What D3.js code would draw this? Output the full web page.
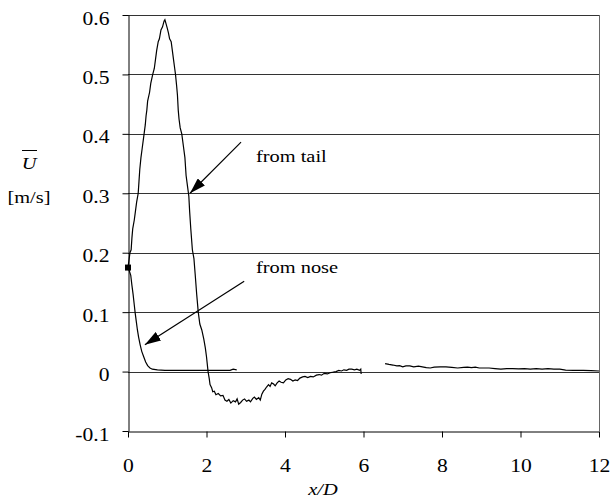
<!DOCTYPE html>
<html>
<head>
<meta charset="utf-8">
<script src="https://cdn.jsdelivr.net/npm/d3@7"></script>
<style>
  body { margin: 0; background: #fff; }
  .chart { width: 611px; height: 501px; }
</style>
</head>
<body>
<div class="chart"></div>
<script>
// values, [x/D, U]
var tailCurve = [[0.00,0.175],[0.03,0.19],[0.05,0.2],[0.08,0.205],[0.10,0.225],[0.12,0.24],[0.16,0.255],[0.19,0.27],[0.22,0.285],[0.26,0.30],[0.28,0.32],[0.30,0.34],[0.33,0.36],[0.36,0.375],[0.41,0.40],[0.44,0.415],[0.46,0.43],[0.48,0.44],[0.50,0.455],[0.55,0.47],[0.58,0.485],[0.63,0.50],[0.67,0.51],[0.70,0.525],[0.73,0.54],[0.77,0.555],[0.80,0.56],[0.84,0.575],[0.88,0.58],[0.92,0.59],[0.94,0.592],[0.97,0.585],[1.00,0.578],[1.03,0.57],[1.06,0.56],[1.10,0.555],[1.13,0.54],[1.16,0.525],[1.19,0.51],[1.21,0.50],[1.24,0.48],[1.26,0.465],[1.28,0.44],[1.30,0.425],[1.33,0.41],[1.37,0.40],[1.41,0.38],[1.45,0.36],[1.48,0.33],[1.52,0.31],[1.55,0.295],[1.57,0.27],[1.60,0.24],[1.64,0.205],[1.68,0.19],[1.71,0.165],[1.75,0.13],[1.79,0.10],[1.83,0.08],[1.88,0.07],[1.93,0.055],[1.97,0.04],[2.00,0.025],[2.04,0.0],[2.07,-0.012],[2.09,-0.022],[2.13,-0.027],[2.16,-0.034],[2.20,-0.033],[2.24,-0.039],[2.30,-0.037],[2.36,-0.041],[2.42,-0.040],[2.47,-0.048],[2.52,-0.050],[2.57,-0.047],[2.62,-0.053],[2.68,-0.049],[2.74,-0.051],[2.78,-0.046],[2.82,-0.055],[2.87,-0.052],[2.92,-0.048],[2.97,-0.046],[3.02,-0.050],[3.08,-0.048],[3.12,-0.051],[3.18,-0.045],[3.22,-0.043],[3.27,-0.047],[3.33,-0.044],[3.37,-0.048],[3.41,-0.038],[3.45,-0.033],[3.49,-0.030],[3.53,-0.026],[3.58,-0.022],[3.62,-0.025],[3.66,-0.019],[3.71,-0.021],[3.75,-0.024],[3.80,-0.019],[3.85,-0.016],[3.90,-0.018],[3.96,-0.019],[4.02,-0.014],[4.08,-0.012],[4.14,-0.013],[4.20,-0.016],[4.26,-0.014],[4.32,-0.015],[4.38,-0.011],[4.45,-0.009],[4.51,-0.008],[4.58,-0.010],[4.65,-0.008],[4.72,-0.009],[4.80,-0.006],[4.87,-0.005],[4.93,-0.006],[5.00,-0.003],[5.08,-0.004],[5.15,-0.002],[5.23,-0.001],[5.30,0.000],[5.37,0.002],[5.44,0.001],[5.50,0.003],[5.57,0.002],[5.63,0.004],[5.70,0.004],[5.77,0.003],[5.83,0.004],[5.90,0.002],[5.93,0.004],[5.94,-0.004]];

var noseCurve = [[0.00,0.175],[0.03,0.17],[0.07,0.162],[0.10,0.145],[0.13,0.13],[0.16,0.112],[0.18,0.10],[0.21,0.085],[0.24,0.07],[0.27,0.058],[0.31,0.045],[0.35,0.034],[0.40,0.025],[0.45,0.016],[0.50,0.010],[0.56,0.006],[0.62,0.004],[0.75,0.003],[0.94,0.002],[1.2,0.002],[1.6,0.002],[2.0,0.002],[2.3,0.002],[2.6,0.002],[2.68,0.004],[2.77,0.003]];

var farCurve = [[6.55,0.0135],[6.65,0.012],[6.75,0.011],[6.85,0.0095],[6.92,0.010],[7.00,0.008],[7.08,0.0095],[7.18,0.0095],[7.28,0.008],[7.40,0.009],[7.50,0.008],[7.60,0.0065],[7.70,0.006],[7.80,0.0075],[7.95,0.008],[8.10,0.008],[8.25,0.007],[8.40,0.006],[8.55,0.007],[8.65,0.0075],[8.75,0.0065],[8.85,0.0075],[8.95,0.006],[9.10,0.006],[9.20,0.006],[9.35,0.005],[9.50,0.004],[9.65,0.005],[9.80,0.005],[9.95,0.0045],[10.10,0.005],[10.25,0.004],[10.40,0.005],[10.55,0.004],[10.70,0.005],[10.85,0.004],[11.00,0.004],[11.15,0.0025],[11.35,0.002],[11.60,0.002],[11.80,0.0015],[12.0,0.001]];

var startMarker = [[0, 0.175]];

var xTicks = [0, 2, 4, 6, 8, 10, 12];
var yTicks = [-0.1, 0, 0.1, 0.2, 0.3, 0.4, 0.5, 0.6];

// annotations: label position and arrow [from, to] in data units
var notes = [
  {text: "from tail", at: [3.26, 0.353], arrow: [[2.88, 0.386], [1.58, 0.30]]},
  {text: "from nose", at: [3.26, 0.166], arrow: [[2.96, 0.152], [0.43, 0.045]]}
];

var stretch = 1.2; // picture text is horizontally stretched
var serif = "'Liberation Serif', 'Times New Roman', Times, serif";

var svg = d3.select(".chart").append("svg").attr("width", 611).attr("height", 501)
    .style("font-family", serif)
    .style("font-size", "17px");

var x = d3.scaleLinear().domain([0, 12]).range([128, 599]),
    y = d3.scaleLinear().domain([-0.1, 0.6]).range([431, 15]);

svg.append("defs").append("marker")
    .attr("id", "head")
    .attr("viewBox", "0 0 16 10")
    .attr("refX", 16).attr("refY", 5)
    .attr("markerWidth", 16).attr("markerHeight", 10)
    .attr("markerUnits", "userSpaceOnUse")
    .attr("orient", "auto")
  .append("path")
    .attr("d", "M0,0L16,5L0,10Z")
    .attr("fill", "#000");

// gridlines
svg.append("g")
  .selectAll("line")
  .data(yTicks.filter(function(d) { return d > -0.1; }))
  .enter().append("line")
    .attr("x1", x(0)).attr("x2", x(12))
    .attr("y1", function(d) { return Math.round(y(d)) + 0.5; })
    .attr("y2", function(d) { return Math.round(y(d)) + 0.5; })
    .attr("stroke", "#333");

// right border
svg.append("line")
    .attr("x1", x(12) + 0.5).attr("x2", x(12) + 0.5)
    .attr("y1", y(0.6)).attr("y2", y(-0.1))
    .attr("stroke", "#666");

var gx = svg.append("g")
    .attr("transform", "translate(0," + (y(-0.1) + 0.5) + ")")
    .call(d3.axisBottom(x).tickValues(xTicks).tickSize(6).tickSizeOuter(0).tickFormat(d3.format("d")));

var gy = svg.append("g")
    .attr("transform", "translate(" + (x(0) + 0.5) + ",0)")
    .call(d3.axisLeft(y).tickValues(yTicks).tickSize(6).tickSizeOuter(0).tickFormat(function(d) { return d3.format(".1f")(d).replace(/^0\.0$/, "0").replace("−", "-"); }));

gx.select(".domain").attr("stroke", "#000");
gy.select(".domain").attr("stroke", "#000");
gx.selectAll(".tick line").attr("stroke", "#000");
gy.selectAll(".tick line").attr("stroke", "#000");

gx.attr("font-size", null).attr("font-family", null).style("font-size", "18px");
gy.attr("font-size", null).attr("font-family", null).style("font-size", "18px");

gx.selectAll(".tick text")
    .attr("y", 41).attr("dy", 0)
    .attr("transform", "scale(" + stretch + ",1)");

gy.selectAll(".tick text")
    .attr("x", -19 / stretch).attr("dy", 9)
    .attr("transform", "scale(" + stretch + ",1)");

var line = d3.line()
    .x(function(d) { return x(d[0]); })
    .y(function(d) { return y(d[1]); });

svg.selectAll(".curve")
  .data([tailCurve, noseCurve, farCurve])
  .enter().append("path")
    .attr("class", "curve")
    .attr("d", line)
    .attr("fill", "none")
    .attr("stroke", "#000")
    .attr("stroke-width", 1.2);

svg.selectAll(".pt")
  .data(startMarker)
  .enter().append("rect")
    .attr("class", "pt")
    .attr("x", function(d) { return x(d[0]) - 3; })
    .attr("y", function(d) { return y(d[1]) - 3; })
    .attr("width", 6).attr("height", 6)
    .attr("fill", "#000");

var note = svg.selectAll(".note")
  .data(notes)
  .enter().append("g")
    .attr("class", "note");

note.append("line")
    .attr("x1", function(d) { return x(d.arrow[0][0]); })
    .attr("y1", function(d) { return y(d.arrow[0][1]); })
    .attr("x2", function(d) { return x(d.arrow[1][0]); })
    .attr("y2", function(d) { return y(d.arrow[1][1]); })
    .attr("stroke", "#000")
    .attr("stroke-width", 1.2)
    .attr("marker-end", "url(#head)");

note.append("text")
    .attr("transform", function(d) { return "translate(" + x(d.at[0]) + "," + y(d.at[1]) + ") scale(" + stretch + ",1)"; })
    .text(function(d) { return d.text; });

// axis titles
svg.append("text")
    .attr("transform", "translate(323,495) scale(" + stretch + ",1)")
    .attr("text-anchor", "middle")
    .style("font-style", "italic")
    .text("x/D");

svg.append("text")
    .attr("transform", "translate(29,169) scale(" + stretch + ",1)")
    .attr("text-anchor", "middle")
    .style("font-style", "italic")
    .text("U");
svg.append("line")
    .attr("x1", 22).attr("x2", 37)
    .attr("y1", 150.5).attr("y2", 150.5)
    .attr("stroke", "#000");

svg.append("text")
    .attr("transform", "translate(29,203) scale(" + stretch + ",1)")
    .attr("text-anchor", "middle")
    .text("[m/s]");

svg.selectAll("text").attr("fill", "#000");
</script>
</body>
</html>
